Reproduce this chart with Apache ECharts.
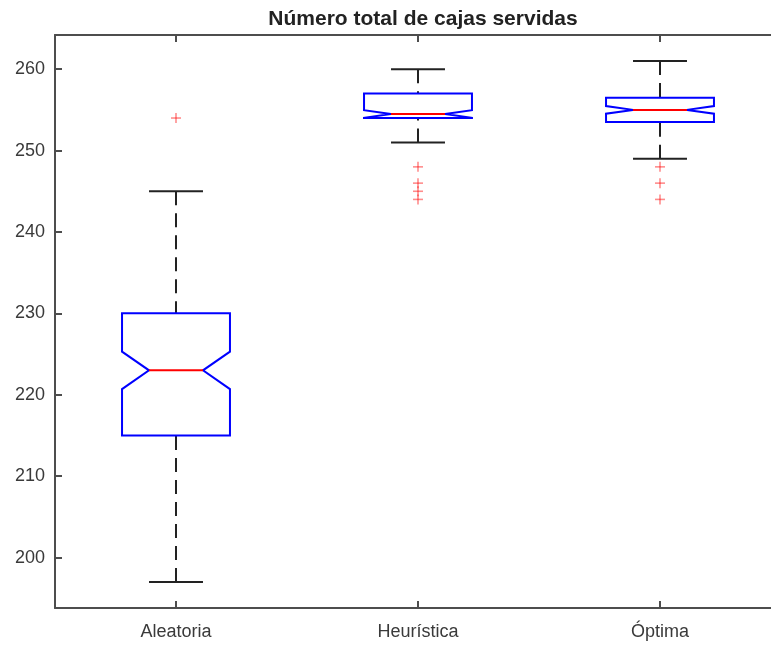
<!DOCTYPE html>
<html>
<head>
<meta charset="utf-8">
<script src="https://cdn.jsdelivr.net/npm/echarts@6/dist/echarts.min.js"></script>
<style>
  html, body { margin: 0; padding: 0; background: #ffffff; overflow: hidden; }
  /* the plot frame runs past the right edge of the window, so the canvas is wider */
  #chart { width: 800px; height: 645px; }
</style>
</head>
<body>
<div id="chart"></div>
<script>
// Box-plot summary of the total number of boxes served per strategy
const categories = ['Aleatoria', 'Heurística', 'Óptima'];
const lowerWhisker = [197, 251, 249];
const lowerQuartile = [215, 254, 253.5];
const medians = [223, 254.5, 255];
const upperQuartile = [230, 257, 256.5];
const upperWhisker = [245, 260, 261];
const notchLow = [220.7, 254.03, 254.53];
const notchHigh = [225.3, 254.97, 255.47];
const outliersAleatoria = [254];
const outliersHeuristica = [248, 246, 245, 244];
const outliersOptima = [248, 246, 244];
const yTickValues = [200, 210, 220, 230, 240, 250, 260];
const yMin = 193.8;
const yMax = 264.2;

const FONT = "'Liberation Sans', Arial, Helvetica, sans-serif";
const AXIS_COLOR = '#4d4d4d';
const TEXT_COLOR = '#3a3a3a';

const boxData = categories.map((_, i) => [
  i, lowerWhisker[i], lowerQuartile[i], medians[i], upperQuartile[i],
  upperWhisker[i], notchLow[i], notchHigh[i]
]);

const outlierData = [];
[outliersAleatoria, outliersHeuristica, outliersOptima].forEach((list, i) => {
  list.forEach(v => outlierData.push([i, v]));
});

function renderBox(params, api) {
  const i = api.value(0);
  const yOf = v => api.coord([i, v])[1];
  const cx = api.coord([i, api.value(3)])[0];
  const band = api.size([1, 0])[0];
  const hw = band * 0.223;      // half box width
  const capHalf = hw / 2;        // half whisker-cap width
  const notchHalf = hw / 2;      // half width at the median

  const yLw = yOf(api.value(1)), yQ1 = yOf(api.value(2)), yMed = yOf(api.value(3));
  const yQ3 = yOf(api.value(4)), yUw = yOf(api.value(5));
  const yNlo = yOf(api.value(6)), yNhi = yOf(api.value(7));

  const whiskerStyle = { stroke: '#222222', lineWidth: 2, lineDash: [14, 8] };
  const capStyle = { stroke: '#222222', lineWidth: 2 };

  return {
    type: 'group',
    children: [
      { type: 'line', shape: { x1: cx, y1: yUw, x2: cx, y2: yQ3 }, style: whiskerStyle },
      { type: 'line', shape: { x1: cx, y1: yLw, x2: cx, y2: yQ1 }, style: whiskerStyle },
      { type: 'line', shape: { x1: cx - capHalf, y1: yUw, x2: cx + capHalf, y2: yUw }, style: capStyle },
      { type: 'line', shape: { x1: cx - capHalf, y1: yLw, x2: cx + capHalf, y2: yLw }, style: capStyle },
      {
        type: 'polygon',
        shape: {
          points: [
            [cx - hw, yQ1], [cx - hw, yNlo], [cx - notchHalf, yMed], [cx - hw, yNhi],
            [cx - hw, yQ3], [cx + hw, yQ3], [cx + hw, yNhi], [cx + notchHalf, yMed],
            [cx + hw, yNlo], [cx + hw, yQ1]
          ]
        },
        style: { fill: 'none', stroke: '#0000ff', lineWidth: 2 }
      },
      { type: 'line', shape: { x1: cx - notchHalf, y1: yMed, x2: cx + notchHalf, y2: yMed },
        style: { stroke: '#ff0000', lineWidth: 2 } }
    ]
  };
}

function renderOutlier(params, api) {
  const p = api.coord([api.value(0), api.value(1)]);
  const r = 5;
  const style = { stroke: 'rgba(255, 0, 0, 0.45)', lineWidth: 1.6 };
  return {
    type: 'group',
    children: [
      { type: 'line', shape: { x1: p[0] - r, y1: p[1], x2: p[0] + r, y2: p[1] }, style },
      { type: 'line', shape: { x1: p[0], y1: p[1] - r, x2: p[0], y2: p[1] + r }, style }
    ]
  };
}

const chart = echarts.init(document.getElementById('chart'), null, { renderer: 'canvas' });
chart.setOption({
  animation: false,
  backgroundColor: '#ffffff',
  title: {
    text: 'Número total de cajas servidas',
    left: 418,
    top: 4,
    textAlign: 'center',
    textStyle: { fontFamily: FONT, fontSize: 21, fontWeight: 'bold', color: '#222222' }
  },
  grid: { left: 55, top: 35, right: 19, bottom: 37, containLabel: false },
  xAxis: [
    {
      type: 'category',
      data: categories,
      boundaryGap: true,
      axisLine: { show: true, lineStyle: { color: AXIS_COLOR, width: 2 } },
      axisTick: { show: true, inside: true, alignWithLabel: true, length: 7,
                  lineStyle: { color: AXIS_COLOR, width: 2 } },
      axisLabel: { fontFamily: FONT, fontSize: 18, color: TEXT_COLOR, margin: 15 },
      splitLine: { show: false }
    },
    {
      type: 'category',
      position: 'top',
      data: categories,
      boundaryGap: true,
      axisLine: { show: true, lineStyle: { color: AXIS_COLOR, width: 2 } },
      axisTick: { show: true, inside: true, alignWithLabel: true, length: 7,
                  lineStyle: { color: AXIS_COLOR, width: 2 } },
      axisLabel: { show: false },
      splitLine: { show: false }
    }
  ],
  yAxis: {
    type: 'value',
    min: yMin,
    max: yMax,
    axisLine: { show: true, lineStyle: { color: AXIS_COLOR, width: 2 } },
    axisTick: { show: true, inside: true, length: 7, customValues: yTickValues,
                lineStyle: { color: AXIS_COLOR, width: 2 } },
    axisLabel: { fontFamily: FONT, fontSize: 18, color: TEXT_COLOR, margin: 10,
                 customValues: yTickValues },
    splitLine: { show: false }
  },
  series: [
    {
      type: 'custom',
      name: 'Cajas',
      renderItem: renderBox,
      data: boxData,
      encode: { x: 0, y: [1, 2, 3, 4, 5] },
      clip: true
    },
    {
      type: 'custom',
      name: 'Atípicos',
      renderItem: renderOutlier,
      data: outlierData,
      encode: { x: 0, y: 1 },
      clip: true
    }
  ]
});
</script>
</body>
</html>
